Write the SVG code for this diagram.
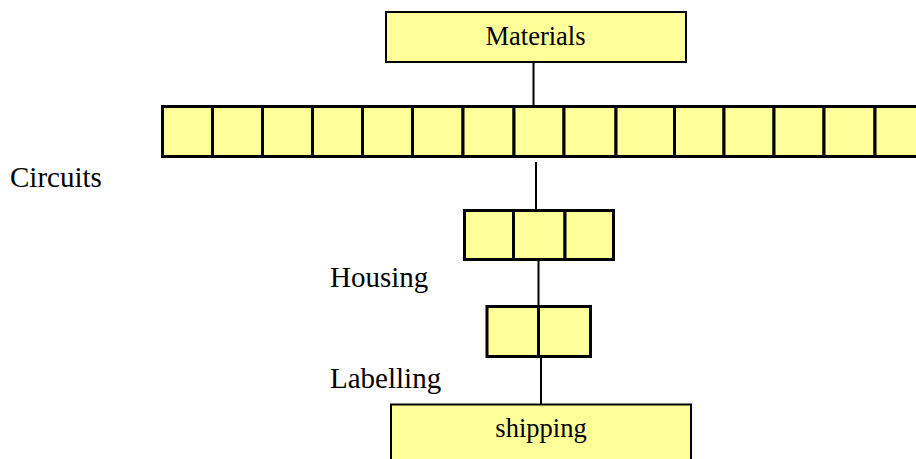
<svg xmlns="http://www.w3.org/2000/svg" width="916" height="459" viewBox="0 0 916 459">
<style>
.box{fill:#FFFF99;stroke:#000;stroke-width:2}
.cell{fill:#FFFF99;stroke:#000;stroke-width:3}
.conn{stroke:#000;stroke-width:2;fill:none}
.t{font-family:"Liberation Serif","Times New Roman",serif;fill:#000}
.lbl{font-size:29px}
.bt{font-size:26.5px;text-anchor:middle}
</style>
<rect width="916" height="459" fill="#fff"/>
<g id="connectors">
<line class="conn" x1="533.5" y1="63" x2="533.5" y2="106"/>
<line class="conn" x1="536" y1="162" x2="536" y2="210"/>
<line class="conn" x1="538.5" y1="260" x2="538.5" y2="306"/>
<line class="conn" x1="541" y1="357" x2="541" y2="404"/>
</g>
<g id="materials">
<rect class="box" x="386" y="12" width="300" height="50"/>
<text class="t bt" x="535.5" y="45">Materials</text>
</g>
<g id="circuits">
<rect class="cell" x="162.5" y="106.5" width="50" height="50"/>
<rect class="cell" x="212.5" y="106.5" width="50" height="50"/>
<rect class="cell" x="262.5" y="106.5" width="50" height="50"/>
<rect class="cell" x="312.5" y="106.5" width="50" height="50"/>
<rect class="cell" x="362.5" y="106.5" width="50" height="50"/>
<rect class="cell" x="412.5" y="106.5" width="50.5" height="50"/>
<rect class="cell" x="463" y="106.5" width="51" height="50"/>
<rect class="cell" x="514" y="106.5" width="50" height="50"/>
<rect class="cell" x="564" y="106.5" width="52" height="50"/>
<rect class="cell" x="616" y="106.5" width="58.5" height="50"/>
<rect class="cell" x="674.5" y="106.5" width="49.5" height="50"/>
<rect class="cell" x="724" y="106.5" width="50" height="50"/>
<rect class="cell" x="774" y="106.5" width="50" height="50"/>
<rect class="cell" x="824" y="106.5" width="51" height="50"/>
<rect class="cell" x="875" y="106.5" width="60" height="50"/>
<text class="t lbl" x="10" y="186.5">Circuits</text>
</g>
<g id="housing">
<rect class="cell" x="464.5" y="210.5" width="49" height="49"/>
<rect class="cell" x="513.5" y="210.5" width="51.5" height="49"/>
<rect class="cell" x="565" y="210.5" width="48.5" height="49"/>
<text class="t lbl" x="330" y="286.5">Housing</text>
</g>
<g id="labelling">
<rect class="cell" x="487" y="306.5" width="51.5" height="50"/>
<rect class="cell" x="538.5" y="306.5" width="52" height="50"/>
<text class="t lbl" x="330" y="388">Labelling</text>
</g>
<g id="shipping">
<rect class="box" x="391" y="404.5" width="300" height="70"/>
<text class="t bt" x="541" y="437">shipping</text>
</g>
</svg>
